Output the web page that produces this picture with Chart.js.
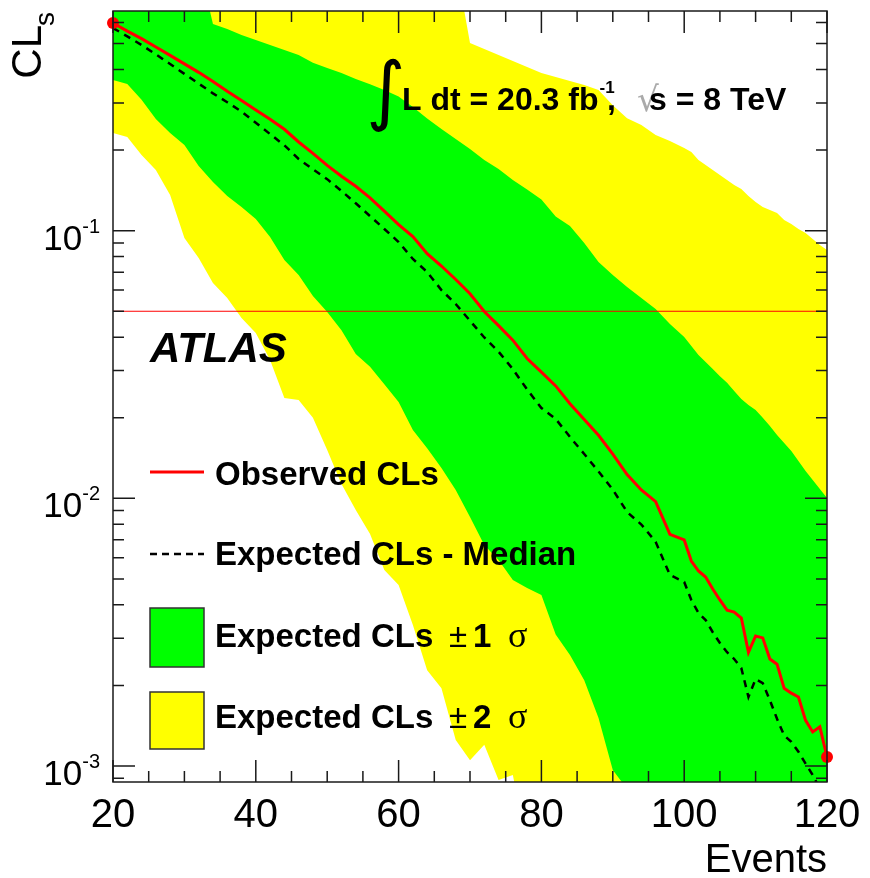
<!DOCTYPE html>
<html>
<head>
<meta charset="utf-8">
<script src="https://cdn.jsdelivr.net/npm/chart.js@4.4.0/dist/chart.umd.min.js"></script>
<style>
  html, body { margin: 0; padding: 0; background: #fff; }
  #wrap { width: 870px; height: 878px; }
</style>
</head>
<body>
<div id="wrap"><canvas id="cls" width="870" height="878"></canvas></div>
<script>
// CLs scan versus number of signal events
const events = [20, 22, 24, 26, 28, 30, 32, 34, 36, 38, 40, 42, 44, 46, 48, 50, 52, 54, 56, 58,
  60, 62, 64, 66, 68, 70, 72, 74, 76, 78, 80, 82, 84, 86, 88, 90, 92, 94, 96, 98, 100,
  101, 102, 103, 104, 105, 106, 107, 108, 109, 110, 111, 112, 113, 114, 115, 116, 117, 118, 119, 120];

const observed = [0.597, 0.557, 0.522, 0.486, 0.452, 0.420, 0.3905, 0.361, 0.332, 0.3066,
  0.2825, 0.261, 0.2393, 0.2145, 0.1946, 0.1754, 0.1597, 0.1465, 0.1326, 0.1184,
  0.1054, 0.0950, 0.0821, 0.0738, 0.0657, 0.0581, 0.0499, 0.0442, 0.0390, 0.0333,
  0.0296, 0.0263, 0.02255, 0.0197, 0.0172, 0.01463, 0.01227, 0.01074, 0.00972, 0.00733, 0.00699,
  0.00583, 0.00535, 0.00508, 0.00458, 0.00417, 0.00382, 0.00376, 0.00357, 0.00266, 0.00306,
  0.00301, 0.00251, 0.00240, 0.00195, 0.00187, 0.00181, 0.00148, 0.00134, 0.00140, 0.00108];

const expectedMedian = [0.572, 0.532, 0.494, 0.456, 0.4195, 0.3855, 0.3545, 0.326, 0.302, 0.2788,
  0.253, 0.2296, 0.2085, 0.1854, 0.1696, 0.1558, 0.1408, 0.1266, 0.1134, 0.1015,
  0.0907, 0.0784, 0.0701, 0.0600, 0.0532, 0.0461, 0.0399, 0.0353, 0.0304, 0.0255,
  0.02175, 0.0198, 0.01695, 0.01464, 0.0126, 0.01078, 0.00889, 0.00798, 0.00688, 0.00517, 0.00487,
  0.00417, 0.00373, 0.00351, 0.00316, 0.00288, 0.00266, 0.00251, 0.00232, 0.00181, 0.00211,
  0.00204, 0.00176, 0.00150, 0.00130, 0.00123, 0.00113, 0.00102, 0.000925, 0.00082, 0.00077];

const plus1Sigma = [1, 1, 1, 1, 1, 1, 1, 0.592, 0.567, 0.539,
  0.516, 0.494, 0.4735, 0.4535, 0.424, 0.4055, 0.3884, 0.369, 0.3525, 0.3356,
  0.3173, 0.290, 0.2626, 0.2399, 0.2202, 0.202, 0.1837, 0.170, 0.1547, 0.1426,
  0.1308, 0.113, 0.1041, 0.0899, 0.0764, 0.0683, 0.0616, 0.0560, 0.0510, 0.0448, 0.0401,
  0.0371, 0.0343, 0.0323, 0.0304, 0.0286, 0.0270, 0.0252, 0.0235, 0.0223, 0.0214,
  0.0200, 0.01863, 0.01724, 0.0161, 0.01502, 0.01378, 0.01265, 0.0117, 0.01083, 0.01003];

const minus1Sigma = [0.3658, 0.3534, 0.3087, 0.2615, 0.2318, 0.2091, 0.1745, 0.1521, 0.1348, 0.1226,
  0.1106, 0.0947, 0.0777, 0.0683, 0.0570, 0.0497, 0.0425, 0.0346, 0.0310, 0.0267,
  0.0229, 0.0180, 0.0154, 0.01298, 0.01074, 0.00851, 0.00669, 0.00588, 0.00495, 0.00462,
  0.00435, 0.0031, 0.0026, 0.00209, 0.00151, 0.000966, 0.00082, 0.0005, 0.0005, 0.0005, 0.0005,
  0.0005, 0.0005, 0.0005, 0.0005, 0.0005, 0.0005, 0.0005, 0.0005, 0.0005, 0.0005,
  0.0005, 0.0005, 0.0005, 0.0005, 0.0005, 0.0005, 0.0005, 0.0005, 0.0005, 0.0005];

const plus2Sigma = [1, 1, 1, 1, 1, 1, 1, 1, 1, 1,
  1, 1, 1, 1, 1, 1, 1, 1, 1, 1,
  1, 1, 1, 1, 1, 0.5029, 0.4775, 0.4535, 0.4308, 0.409,
  0.3884, 0.3754, 0.3626, 0.3504, 0.3356, 0.294, 0.263, 0.2485, 0.2278, 0.2163, 0.2037,
  0.1968, 0.1837, 0.1760, 0.1685, 0.1614, 0.1547, 0.1482, 0.1432, 0.1348, 0.1280,
  0.1226, 0.1195, 0.1164, 0.1096, 0.1059, 0.1015, 0.0980, 0.0931, 0.0884, 0.0847];

const minus2Sigma = [0.2318, 0.2240, 0.1918, 0.1685, 0.1360, 0.0939, 0.0791, 0.0638, 0.0560, 0.0472,
  0.0415, 0.0329, 0.0237, 0.0233, 0.0200, 0.01516, 0.01131, 0.00904, 0.00736, 0.00540,
  0.00474, 0.00336, 0.00228, 0.00195, 0.00125, 0.00105, 0.00120, 0.000886, 0.000925, 0.0005,
  0.0005, 0.0005, 0.0005, 0.0005, 0.0005, 0.0005, 0.0005, 0.0005, 0.0005, 0.0005, 0.0005,
  0.0005, 0.0005, 0.0005, 0.0005, 0.0005, 0.0005, 0.0005, 0.0005, 0.0005, 0.0005,
  0.0005, 0.0005, 0.0005, 0.0005, 0.0005, 0.0005, 0.0005, 0.0005, 0.0005, 0.0005];

const clsLimit = 0.05;
const xTickLabels = [20, 40, 60, 80, 100, 120];
const yTickLabels = [1e-1, 1e-2, 1e-3];

const YELLOW = '#ffff00';
const GREEN = '#00ff00';
const RED = '#ff0000';
const SANS = '"Liberation Sans", Arial, Helvetica, sans-serif';

const pts = vals => events.map((e, i) => ({ x: e, y: vals[i] }));
const noLine = { borderWidth: 0, borderColor: 'rgba(0,0,0,0)', pointRadius: 0 };

// frame, inward ticks, labels, text and legend in ROOT style
const atlasDecor = {
  id: 'atlasDecor',
  afterDraw(chart) {
    const { ctx, chartArea: a } = chart;
    const xs = chart.scales.x, ys = chart.scales.y;
    ctx.save();

    // ticks on all four sides
    ctx.strokeStyle = '#1a1a1a';
    ctx.lineWidth = 1.5;
    ctx.beginPath();
    for (let v = 20; v <= 120; v += 5) {
      const px = xs.getPixelForValue(v);
      const len = v % 20 === 0 ? 22 : 11;
      ctx.moveTo(px, a.bottom); ctx.lineTo(px, a.bottom - len);
      ctx.moveTo(px, a.top); ctx.lineTo(px, a.top + len);
    }
    for (let d = -4; d <= 0; d++) {
      for (let m = 1; m <= 9; m++) {
        const v = m * Math.pow(10, d);
        if (v < ys.min || v > ys.max) continue;
        const py = ys.getPixelForValue(v);
        const len = m === 1 ? 22 : 11;
        ctx.moveTo(a.left, py); ctx.lineTo(a.left + len, py);
        ctx.moveTo(a.right, py); ctx.lineTo(a.right - len, py);
      }
    }
    ctx.stroke();
    ctx.strokeRect(a.left, a.top, a.right - a.left, a.bottom - a.top);

    // tick labels
    ctx.fillStyle = '#000';
    ctx.textBaseline = 'alphabetic';
    ctx.font = `40px ${SANS}`;
    ctx.textAlign = 'center';
    xTickLabels.forEach(v => ctx.fillText(String(v), xs.getPixelForValue(v), 827));

    yTickLabels.forEach(v => {
      const py = ys.getPixelForValue(v);
      const sup = String(Math.round(Math.log10(v)));
      ctx.font = `20px ${SANS}`;
      const ws = ctx.measureText(sup).width;
      ctx.textAlign = 'left';
      ctx.fillText(sup, 100 - ws, py + 2);
      ctx.font = `35px ${SANS}`;
      ctx.textAlign = 'right';
      ctx.fillText('10', 100 - ws, py + 19);
    });

    // axis titles
    ctx.font = `40px ${SANS}`;
    ctx.textAlign = 'right';
    ctx.fillText('Events', a.right, 872);

    ctx.save();
    ctx.translate(41, 12);
    ctx.rotate(-Math.PI / 2);
    ctx.textAlign = 'right';
    ctx.font = `28px ${SANS}`;
    const wsub = ctx.measureText('s').width;
    ctx.fillText('s', 0, 13);
    ctx.font = `42px ${SANS}`;
    ctx.fillText('CL', -wsub + 1, 0);
    ctx.restore();

    // luminosity / energy label
    ctx.textAlign = 'left';
    const glyph = (ch, font, left, top, height, color) => {
      ctx.font = `100px ${font}`;
      const m = ctx.measureText(ch);
      const size = 100 * height / (m.actualBoundingBoxAscent + m.actualBoundingBoxDescent);
      ctx.font = `${size}px ${font}`;
      const m2 = ctx.measureText(ch);
      ctx.fillStyle = color;
      ctx.fillText(ch, left + m2.actualBoundingBoxLeft, top + m2.actualBoundingBoxAscent);
      ctx.fillStyle = '#000';
    };
    glyph('∫', '"DejaVu Sans"', 370, 58, 74, '#000');
    ctx.font = `bold 32px ${SANS}`;
    const lumi = 'L dt = 20.3 fb';
    ctx.fillText(lumi, 402, 110);
    const lend = 402 + ctx.measureText(lumi).width;
    ctx.font = `bold 17px ${SANS}`;
    ctx.fillText('-1', lend + 1, 93);
    ctx.font = `bold 32px ${SANS}`;
    ctx.fillText(',', 607, 110);
    glyph('√', '"DejaVu Sans"', 638, 83, 29, '#aaaaaa');
    ctx.font = `bold 32px ${SANS}`;
    ctx.fillText('s = 8 TeV', 649, 110);

    // experiment label
    ctx.font = `italic bold 42px ${SANS}`;
    ctx.fillText('ATLAS', 150, 362);

    // legend
    const lx = 150, lw = 54, tx = 215;
    ctx.lineWidth = 3;
    ctx.strokeStyle = RED;
    ctx.beginPath(); ctx.moveTo(lx, 472); ctx.lineTo(lx + lw, 472); ctx.stroke();
    ctx.strokeStyle = '#000';
    ctx.lineWidth = 2.5;
    ctx.setLineDash([7, 5]);
    ctx.beginPath(); ctx.moveTo(lx, 554); ctx.lineTo(lx + lw, 554); ctx.stroke();
    ctx.setLineDash([]);
    ctx.lineWidth = 1.5;
    ctx.strokeStyle = '#333';
    ctx.fillStyle = GREEN;
    ctx.fillRect(lx, 608, lw, 59); ctx.strokeRect(lx, 608, lw, 59);
    ctx.fillStyle = YELLOW;
    ctx.fillRect(lx, 692, lw, 57); ctx.strokeRect(lx, 692, lw, 57);

    ctx.fillStyle = '#000';
    ctx.font = `bold 33px ${SANS}`;
    ctx.fillText('Observed CLs', tx, 485);
    ctx.fillText('Expected CLs - Median', tx, 565);
    [['1', 647], ['2', 728]].forEach(([n, base]) => {
      ctx.font = `bold 33px ${SANS}`;
      ctx.fillText('Expected CLs', tx, base);
      ctx.font = `33px ${SANS}`;
      ctx.fillText('±', 449, base);
      ctx.font = `bold 33px ${SANS}`;
      ctx.fillText(n, 473, base);
      ctx.font = '36px "Liberation Serif", "DejaVu Serif", serif';
      ctx.fillText('σ', 508, base);
    });

    ctx.restore();
  }
};

new Chart(document.getElementById('cls'), {
  type: 'line',
  data: {
    datasets: [
      { label: 'Expected CLs ± 2 σ', data: pts(plus2Sigma), fill: 1, backgroundColor: YELLOW, ...noLine, order: 6 },
      { label: '-2 sigma', data: pts(minus2Sigma), fill: false, ...noLine, order: 6 },
      { label: 'Expected CLs ± 1 σ', data: pts(plus1Sigma), fill: 3, backgroundColor: GREEN, ...noLine, order: 5 },
      { label: '-1 sigma', data: pts(minus1Sigma), fill: false, ...noLine, order: 5 },
      { label: 'CLs = 0.05', data: [{ x: 20, y: clsLimit }, { x: 120, y: clsLimit }], fill: false,
        borderColor: RED, borderWidth: 1.2, pointRadius: 0, order: 3 },
      { label: 'Expected CLs - Median', data: pts(expectedMedian), fill: false,
        borderColor: '#000', borderWidth: 2.5, borderDash: [7, 6], pointRadius: 0, order: 2 },
      { label: 'Observed CLs', data: pts(observed), fill: false, borderColor: RED, borderWidth: 3,
        pointRadius: observed.map((v, i) => (i === 0 || i === observed.length - 1) ? 6 : 0),
        pointBackgroundColor: RED, pointBorderWidth: 0, clip: false, order: 1 }
    ]
  },
  options: {
    responsive: false,
    animation: false,
    devicePixelRatio: 1,
    events: [],
    layout: { padding: { left: 113, right: 43, top: 11, bottom: 96 } },
    elements: { line: { tension: 0 } },
    scales: {
      x: { type: 'linear', min: 20, max: 120, display: false },
      y: { type: 'logarithmic', min: 0.000871, max: 0.662, display: false }
    },
    plugins: {
      legend: { display: false },
      tooltip: { enabled: false },
      title: { display: false }
    }
  },
  plugins: [atlasDecor]
});
</script>
</body>
</html>
